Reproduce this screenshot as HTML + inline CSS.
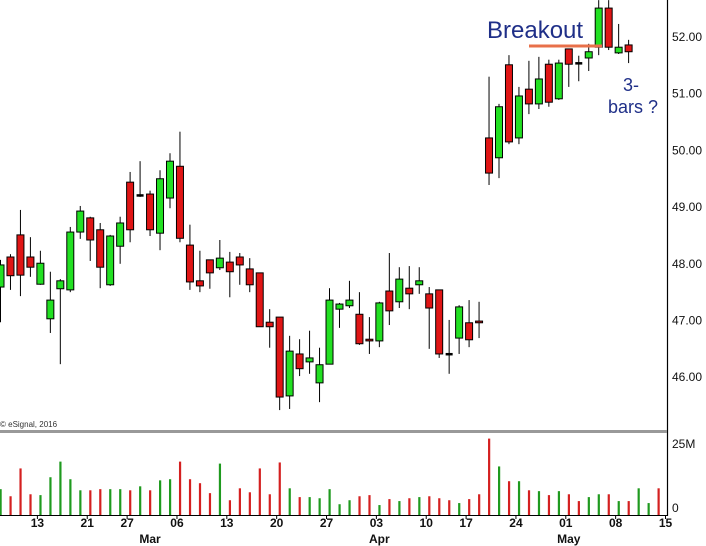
<!DOCTYPE html>
<html><head><meta charset="utf-8"><style>
html,body{margin:0;padding:0;background:#fff;}
svg{display:block;font-family:"Liberation Sans",Arial,sans-serif;}
</style></head><body>
<svg id="chart" width="706" height="546" viewBox="0 0 706 546" xmlns="http://www.w3.org/2000/svg">
<g id="candles"></g>
<g id="vols"></g>
<g id="axes"></g>
<text x="0" y="427" font-size="8" fill="#333">© eSignal, 2016</text>
<text x="487" y="38" font-size="24" fill="#1f2f88">Breakout</text>
<line x1="529" y1="46" x2="602" y2="46" stroke="#e8704a" stroke-width="3"/>
<text x="623" y="91" font-size="18" fill="#1f2f88">3-</text>
<text x="608" y="113" font-size="18" fill="#1f2f88">bars ?</text>
</svg>
<script>
const opens  = [47.59,48.12,48.51,48.12,47.64,47.03,47.56,47.54,48.56,48.81,48.60,47.63,48.31,49.44,49.21,49.23,48.54,49.16,49.72,48.33,47.70,48.07,47.93,48.03,48.12,47.91,47.84,46.97,47.06,45.67,46.41,46.27,45.90,46.23,47.20,47.26,47.11,46.67,46.64,47.52,47.33,47.57,47.63,47.47,47.54,46.41,46.69,46.96,46.99,50.22,49.87,51.51,50.22,51.08,50.82,51.52,50.91,51.79,51.54,51.63,51.82,52.51,51.72,51.86];
const closes = [47.98,47.79,47.80,47.94,48.01,47.36,47.70,48.56,48.93,48.42,47.94,48.49,48.72,48.60,49.21,48.60,49.50,49.81,48.45,47.68,47.61,47.84,48.10,47.86,47.98,47.63,46.89,46.89,45.65,46.46,46.15,46.34,46.22,47.36,47.29,47.36,46.59,46.64,47.31,47.17,47.73,47.47,47.70,47.22,46.41,46.41,47.24,46.66,46.96,49.60,50.77,50.15,50.96,50.82,51.26,50.85,51.54,51.52,51.54,51.74,52.51,51.82,51.82,51.74];
const highs  = [48.07,48.17,48.95,48.47,48.23,47.86,47.73,48.65,49.02,48.83,48.72,48.51,48.83,49.62,49.81,49.29,49.65,49.95,50.33,48.69,48.23,48.07,48.42,48.21,48.19,48.10,47.84,47.20,47.06,46.73,46.67,46.82,46.52,47.57,47.31,47.70,47.50,47.06,47.33,48.19,47.94,47.96,47.94,47.59,47.54,47.01,47.27,47.36,47.33,51.30,50.82,51.68,51.12,51.58,51.65,51.60,51.60,51.79,51.67,51.88,52.65,52.65,52.23,51.95];
const lows   = [46.97,47.54,47.43,47.77,47.63,46.78,46.23,47.50,48.44,48.05,47.57,47.61,48.00,48.38,49.18,48.49,48.24,48.98,48.38,47.54,47.50,47.56,47.89,47.41,47.63,47.50,46.89,46.52,45.42,45.44,46.02,46.06,45.56,46.23,46.87,47.22,46.57,46.41,46.53,46.92,47.22,47.20,47.47,46.50,46.34,46.06,46.41,46.53,46.69,49.39,49.51,50.11,50.11,50.64,50.73,50.77,50.89,51.12,51.22,51.40,51.68,51.77,51.70,51.54];
const volumes = [9.1,6.6,16.4,7.3,7.0,13.3,18.8,12.6,8.7,8.7,9.1,9.1,9.1,8.7,10.1,8.7,12.2,12.6,18.8,12.6,11.2,7.7,18.1,5.2,9.4,8.0,16.4,7.3,18.5,9.4,6.3,6.3,5.9,9.1,3.8,5.2,6.6,7.0,3.5,5.6,4.9,5.9,6.3,6.6,5.9,5.2,4.2,5.6,7.3,26.9,17.1,11.9,11.9,8.7,8.4,7.0,8.4,7.3,4.9,6.3,7.3,7.3,4.9,4.9,9.4,4.2,9.4];
const volUp = [1,0,0,0,1,1,1,1,1,0,0,1,1,0,1,0,1,1,0,0,0,0,1,0,0,0,0,0,0,1,0,1,1,1,1,1,0,0,1,0,1,0,1,0,0,0,1,0,0,0,1,0,1,0,1,0,1,0,0,1,1,0,1,0,1,1,0];
const priceTicks = [52,51,50,49,48,47,46];
const priceTickLabels = ["52.00","51.00","50.00","49.00","48.00","47.00","46.00"];
const dateLabels = ["13","21","27","06","13","20","27","03","10","17","24","01","08","15"];
const dateSlots = [3.7,8.7,12.7,17.7,22.7,27.7,32.7,37.7,42.7,46.7,51.7,56.7,61.7,66.7];
const monthLabels = ["Mar","Apr","May"];
const monthSlots = [15,38,57];

const NS="http://www.w3.org/2000/svg";
const xS = i => i*9.97 + 0.5;
const yP = p => 37 + (52-p)*56.7;
const yV = v => 515 - v*2.84;
function mk(tag, attrs, parent){const e=document.createElementNS(NS,tag);for(const k in attrs)e.setAttribute(k,attrs[k]);parent.appendChild(e);return e;}
const cg=document.getElementById('candles'), vg=document.getElementById('vols'), ag=document.getElementById('axes');

for(let i=0;i<opens.length;i++){
  const x=xS(i), o=opens[i], c=closes[i];
  const g=mk('g',{},cg);
  
  
  mk('line',{x1:x,x2:x,y1:yP(highs[i]),y2:yP(lows[i]),stroke:'#000','stroke-width':1},g);
  const top=yP(Math.max(o,c)), bot=yP(Math.min(o,c));
  const col = c>o ? '#22e022' : (c<o ? '#e01515' : '#000');
  if(Math.abs(bot-top)<1.5){
    mk('rect',{x:x-3.5,y:top-1,width:7,height:2.5,fill:c>=o?'#000':'#6b1010'},g);
  } else {
    mk('rect',{x:x-3.5,y:top,width:7,height:bot-top,fill:col,stroke:'#000','stroke-width':1},g);
  }
}
for(let i=0;i<volumes.length;i++){
  const x=xS(i);
  const r=mk('rect',{x:x-1,y:yV(volumes[i]),width:2.2,height:515-yV(volumes[i]),fill:volUp[i]?'#1f9a1f':'#d42020'},vg);
  
  
}
// axes
mk('line',{x1:667.5,x2:667.5,y1:0,y2:516,stroke:'#000','stroke-width':1.2},ag);
mk('rect',{x:0,y:430,width:667,height:3,fill:'#999'},ag);
mk('line',{x1:0,x2:668,y1:515.5,y2:515.5,stroke:'#000','stroke-width':1},ag);
for(let k=0;k<priceTicks.length;k++){
  const t=mk('text',{x:672,y:yP(priceTicks[k])+4,'font-size':12,fill:'#111'},ag);
  t.textContent=priceTickLabels[k];
  
  
}
const v1=mk('text',{x:672,y:yV(25)+4,'font-size':12,fill:'#111'},ag);v1.textContent='25M';


const v0=mk('text',{x:672,y:yV(0)-3,'font-size':12,fill:'#111'},ag);v0.textContent='0';


for(let k=0;k<dateLabels.length;k++){
  const x=xS(dateSlots[k]);
  mk('line',{x1:x,x2:x,y1:515,y2:519,stroke:'#000'},ag);
  const t=mk('text',{x:x,y:527,'font-size':12,'font-weight':'bold','text-anchor':'middle',fill:'#111'},ag);
  t.textContent=dateLabels[k];
  
  
}
for(let k=0;k<monthLabels.length;k++){
  const t=mk('text',{x:xS(monthSlots[k]),y:543,'font-size':12,'font-weight':'bold','text-anchor':'middle',fill:'#111'},ag);
  t.textContent=monthLabels[k];
  
  
}
</script>
</body></html>
